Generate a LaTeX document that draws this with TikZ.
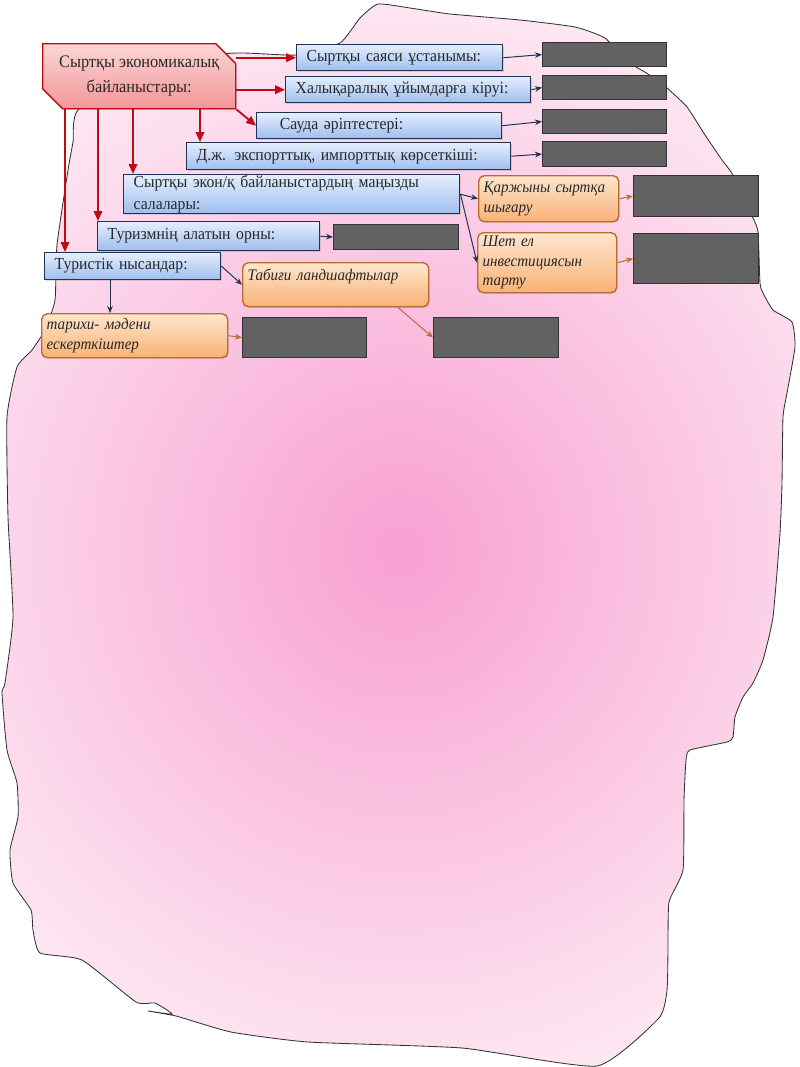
\documentclass[tikz,border=0pt]{standalone}
\usepackage{fontspec}
\setmainfont{Liberation Serif}[FakeStretch=0.93]
\usetikzlibrary{arrows.meta,shapes.misc,shadows}

\definecolor{blobpink}{RGB}{248,160,210}
\definecolor{blobedge}{RGB}{253,232,242}
\definecolor{redline}{RGB}{192,10,20}
\definecolor{redtop}{RGB}{252,214,214}
\definecolor{redbot}{RGB}{242,150,150}
\definecolor{bluetop}{RGB}{228,238,253}
\definecolor{bluebot}{RGB}{158,190,238}
\definecolor{blueline}{RGB}{34,50,82}
\definecolor{orangetop}{RGB}{254,230,206}
\definecolor{orangebot}{RGB}{248,178,118}
\definecolor{orangeline}{RGB}{188,108,48}
\definecolor{greyfill}{RGB}{98,98,98}
\definecolor{greyline}{RGB}{52,50,56}
\definecolor{textgrey}{RGB}{40,40,40}

\tikzset{
  softshadow/.style={drop shadow={opacity=0.25,shadow xshift=0.6pt,shadow yshift=-0.8pt}},
  ecobox/.style={chamfered rectangle, chamfered rectangle corners={north east,south west},
    chamfered rectangle xsep=0.25cm, chamfered rectangle ysep=0.25cm,
    draw=redline, line width=1pt, top color=redtop, bottom color=redbot,
    text=textgrey, align=center, anchor=north west, inner sep=0pt,
    font=\fontsize{12.5}{17.5}\selectfont, softshadow},
  bluebox/.style={draw=blueline, line width=1pt, top color=bluetop, bottom color=bluebot,
    text=textgrey, align=left, anchor=north west, inner xsep=0.25cm, inner ysep=0pt,
    font=\fontsize{12}{15}\selectfont, softshadow},
  orangebox/.style={draw=orangeline, line width=1pt, rounded corners=4pt,
    top color=orangetop, bottom color=orangebot, text=textgrey, align=left,
    anchor=north west, inner xsep=0.125cm, inner ysep=0pt,
    font=\fontsize{11.5}{14}\selectfont\itshape, softshadow},
  greybox/.style={draw=greyline, line width=0.8pt, fill=greyfill, anchor=north west,
    inner sep=0pt, minimum width=3.1cm},
  redarrow/.style={draw=redline, line width=1.3pt, -{Triangle[length=7pt,width=6pt]}},
  navyarrow/.style={draw=blueline, line width=0.7pt, -{Stealth[length=5pt,width=4pt]}},
  brownarrow/.style={draw=orangeline, line width=0.7pt, -{Stealth[length=5pt,width=4pt]}}
}

\begin{document}
\begin{tikzpicture}[x=0.025cm,y=-0.025cm]
\useasboundingbox (0,0) rectangle (800,1067);

% background sheet
\def\sheet{plot[smooth cycle, tension=0.3] coordinates {
  (78,110) (150,62) (236,53) (296,55) (340,43) (360,18) (378,4) (410,8) (450,14)
  (520,20) (575,27) (605,38) (625,60) (648,74) (667,88) (687,107) (705,135)
  (722,160) (733,175) (753,218) (758,232) (760,283) (763,293) (773,310) (792,322)
  (795,347) (787,393) (783,417) (782,483) (780,533) (773,617) (763,660) (753,683)
  (743,697) (735,717) (733,737) (727,742) (690,750) (686,760) (684,800) (683,870)
  (669,902) (668,950) (667,990) (659,1018) (597,1066) (462,1048) (308,1042)
  (231,1032) (176,1016) (148,1011) (172,1014) (155,1003) (136,1002) (82,960)
  (40,953) (33,930) (31,910) (13,883) (10,850) (18,817) (17,783) (7,750) (2,693)
  (5,683) (13,617) (8,517) (7,417) (17,367) (32,350) (45,330) (55,300) (57,245)
  (68,170) (73,142)}}
\begin{scope}
  \clip \sheet;
  \fill[blobedge] (0,0) rectangle (800,1067);
  \shade[inner color=blobpink, outer color=blobedge] (400,550) ellipse (540 and 560);
\end{scope}
\draw[black!80, line width=0.6pt] \sheet;

% main box
\node[ecobox, minimum width=4.825cm, minimum height=1.625cm] (eco) at (42,43)
  {Сыртқы экономикалық\\байланыстары:};

% blue boxes
\node[bluebox, text width=4.65cm, minimum height=0.65cm] (polit) at (296,44) {Сыртқы саяси ұстанымы:};
\node[bluebox, text width=5.625cm, minimum height=0.65cm] (inter) at (285,76) {Халықаралық ұйымдарға кіруі:};
\node[bluebox, text width=5.625cm, minimum height=0.65cm] (trade) at (256,112) {\hspace{0.33cm}Сауда әріптестері:};
\node[bluebox, text width=7.6cm, minimum height=0.675cm] (export) at (186,142) {Д.ж. экспорттық, импорттық көрсеткіші:};
\node[bluebox, text width=7.9cm, minimum height=0.975cm] (branch) at (123,174) {Сыртқы экон/қ байланыстардың маңызды\\салалары:};
\node[bluebox, text width=5.05cm, minimum height=0.725cm] (tour) at (97,221) {Туризмнің алатын орны:};
\node[bluebox, text width=3.9cm, minimum height=0.675cm] (sites) at (44,252) {Туристік нысандар:};

% orange boxes
\node[orangebox, text width=3.25cm, minimum height=1.15cm] (capital) at (478,175) {Қаржыны сыртқа\\шығару};
\node[orangebox, text width=3.225cm, minimum height=1.5cm] (invest) at (477,232) {Шет ел\\инвестициясын\\тарту};
\node[orangebox, text width=4.4cm, minimum height=1.1cm] (nature) at (242,262) {Табиғи ландшафтылар\\\mbox{}};
\node[orangebox, text width=4.4cm, minimum height=1.1cm] (heritage) at (41,313) {тарихи- мәдени\\ескерткіштер};

% empty answer boxes
\node[greybox, minimum height=0.6cm] (g1) at (542,42) {};
\node[greybox, minimum height=0.6cm] (g2) at (542,75) {};
\node[greybox, minimum height=0.6cm] (g3) at (542,109) {};
\node[greybox, minimum height=0.625cm] (g4) at (542,141) {};
\node[greybox, minimum width=3.125cm, minimum height=1.025cm] (g5) at (633,175) {};
\node[greybox, minimum width=3.125cm, minimum height=1.25cm] (g6) at (633,233) {};
\node[greybox, minimum width=3.125cm, minimum height=0.625cm] (g7) at (333,224) {};
\node[greybox, minimum height=1cm] (g8) at (242,317) {};
\node[greybox, minimum width=3.125cm, minimum height=1cm] (g9) at (433,317) {};

% drop points
\coordinate (x65) at (65,0);
\coordinate (x98) at (98,0);
\coordinate (x133) at (133,0);
\coordinate (x200) at (200,0);
\coordinate (x110) at (110,0);
\coordinate (x398) at (398,0);

% red arrows
\draw[redarrow] (eco.east |- polit) -- (polit.west);
\draw[redarrow] (eco.east |- inter) -- (inter.west);
\draw[redarrow] (eco.south east) -- (trade.west);
\draw[redarrow] (eco.south -| x200) -- (export.north -| x200);
\draw[redarrow] (eco.south -| x133) -- (branch.north -| x133);
\draw[redarrow] (eco.south -| x98) -- (tour.north -| x98);
\draw[redarrow] (eco.south -| x65) -- (sites.north -| x65);

% blue arrows
\draw[navyarrow] (polit.east) -- (g1.west);
\draw[navyarrow] (inter.east) -- (g2.west);
\draw[navyarrow] (trade.east) -- (g3.west);
\draw[navyarrow] (export.east) -- (g4.west);
\draw[navyarrow] (branch.east) -- (capital.west);
\draw[navyarrow] (branch.east) -- (invest.west);
\draw[navyarrow] (tour.east) -- (g7.west);
\draw[navyarrow] (sites.east) -- (nature.west);
\draw[navyarrow] (sites.south -| x110) -- (heritage.north -| x110);

% orange arrows
\draw[brownarrow] (capital.east) -- (g5.west);
\draw[brownarrow] (invest.east) -- (g6.west);
\draw[brownarrow] (heritage.east) -- (g8.west);
\draw[brownarrow] (nature.south -| x398) -- (g9.west);
\end{tikzpicture}
\end{document}
